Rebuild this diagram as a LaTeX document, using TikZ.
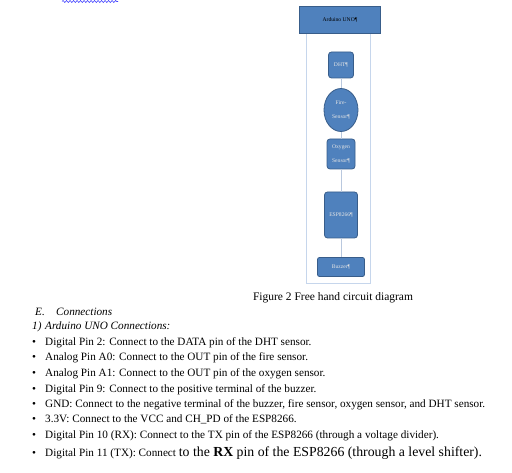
\documentclass[tikz,border=0pt]{standalone}
\usepackage{fontspec}
\setmainfont{Liberation Serif}
\usetikzlibrary{positioning}
\usetikzlibrary{shapes}
\usetikzlibrary{decorations.pathmorphing}
\definecolor{partblue}{RGB}{79,129,189}
\definecolor{partedge}{RGB}{56,93,138}
\definecolor{frameblue}{RGB}{198,214,236}
\definecolor{wireblue}{RGB}{185,200,222}
\tikzset{
	part/.style={draw=partedge,fill=partblue,line width=0.8pt,rounded corners=3pt,text=white!90!black,align=center,inner sep=0pt,font=\fontsize{5.6}{14}\selectfont},
	wire/.style={draw=wireblue,line width=0.7pt},
	bullet/.style={anchor=base west,inner sep=0pt,font=\fontsize{11.2}{13}\selectfont},
	item/.style={anchor=base west,inner sep=0pt,font=\fontsize{11.2}{13}\selectfont},
}

\begin{document}
\begin{tikzpicture}[x=1pt,y=-1pt]
	\useasboundingbox (0,0) rectangle (512,473);

	% squiggle at the top..................
	\draw [blue!75, line width=0.6pt, decorate, decoration={snake,amplitude=1pt,segment length=3.5pt}] (62,1.5) -- (118,1.5);

	% frame round the parts................
	\draw [frameblue, line width=0.9pt] (306,33) -- (306,283) -- (370,283) -- (370,33);

	% Arduino............................
	\node [part, rounded corners=0pt, text=black, minimum width=81pt, minimum height=27pt] (uno) at (340,19.5) {Arduino UNO¶};

	% sensors.............................
	\node [part, minimum width=25pt, minimum height=26pt] (dht) at (341,65) {DHT¶};
	\node [part, ellipse, minimum width=34pt, minimum height=43pt] (fire) at (341,110) {Fire-\\Sensor¶};
	\node [part, minimum width=28pt, minimum height=30pt] (oxy) at (341,154) {Oxygen\\Sensor¶};

	% wifi module and buzzer.............
	\node [part, minimum width=33pt, minimum height=46pt] (esp) at (341,215) {ESP8266¶};
	\node [part, rounded corners=2pt, minimum width=47pt, minimum height=19pt] (buzzer) at (341,267) {Buzzer¶};

	% wires...............................
	\draw [wire] (dht) -- (fire);
	\draw [wire] (fire) -- (oxy);
	\draw [wire] (oxy) -- (esp);
	\draw [wire] (esp) -- (buzzer);

	% caption.............................
	\node [anchor=base, inner sep=0pt, font=\fontsize{11.5}{13}\selectfont] (caption) at (333,301) {Figure 2 Free hand circuit diagram};

	% headings............................
	\node [item, font=\fontsize{11.2}{13}\itshape] (secE) at (35,316) {E.};
	\node [item, font=\fontsize{11.2}{13}\itshape] (secEtitle) at (56,316) {Connections};
	\node [item, font=\fontsize{11.2}{13}\itshape] (subOne) at (32,330) {1)};
	\node [item, font=\fontsize{11.2}{13}\itshape] (subOnetitle) at (45,330) {Arduino UNO Connections:};

	% list................................
	\foreach \y/\txt [count=\i] in {
		345.5/{Digital Pin 2: Connect to the DATA pin of the DHT sensor.},
		361/{Analog Pin A0: Connect to the OUT pin of the fire sensor.},
		376.5/{Analog Pin A1: Connect to the OUT pin of the oxygen sensor.},
		392/{Digital Pin 9: Connect to the positive terminal of the buzzer.},
		407.5/{GND: Connect to the negative terminal of the buzzer, fire sensor, oxygen sensor, and DHT sensor.},
		423/{3.3V: Connect to the VCC and CH\_PD of the ESP8266.},
		438.5/{Digital Pin 10 (RX): Connect to the TX pin of the ESP8266 (through a voltage divider).}
	}{
		\node [bullet] (dot\i) at (32,\y) {\textbullet};
		\node [item] (line\i) at (45,\y) {\txt};
	}
	\node [bullet] (dot8) at (32,456) {\textbullet};
	\node [item] (line8) at (45,456) {Digital Pin 11 (TX): Connect {\fontsize{13.8}{16}\selectfont to the \textbf{RX} pin of the ESP8266 (through a level shifter).}};
\end{tikzpicture}
\end{document}
